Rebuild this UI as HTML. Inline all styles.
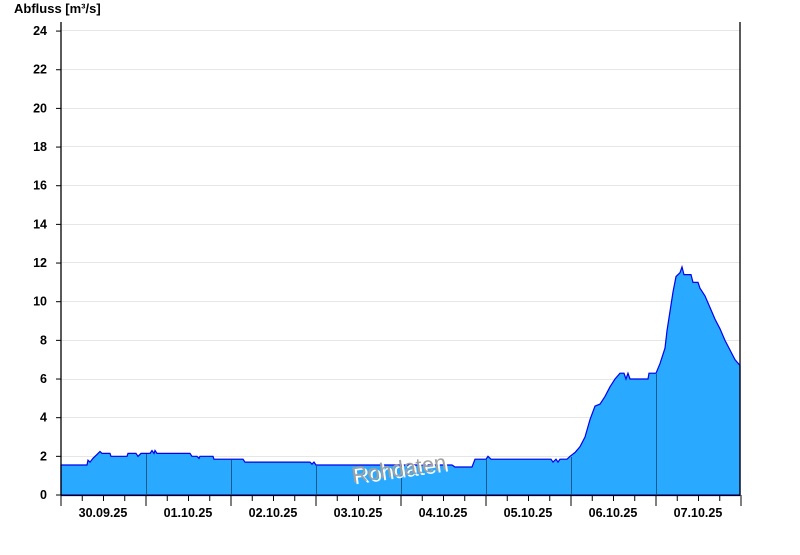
<!DOCTYPE html>
<html><head><style>body{margin:0;background:#fff}svg text{font-family:"Liberation Sans",Arial,sans-serif;font-weight:bold}</style></head>
<body>
<svg width="800" height="550" xmlns="http://www.w3.org/2000/svg">
<text x="14" y="13" font-size="13">Abfluss [m³/s]</text>
<g id="grid" stroke="#e6e6e6" stroke-width="1">
<line x1="61" x2="740" y1="456.5" y2="456.5"/><line x1="61" x2="740" y1="417.5" y2="417.5"/><line x1="61" x2="740" y1="379.5" y2="379.5"/><line x1="61" x2="740" y1="340.5" y2="340.5"/><line x1="61" x2="740" y1="301.5" y2="301.5"/><line x1="61" x2="740" y1="262.5" y2="262.5"/><line x1="61" x2="740" y1="224.5" y2="224.5"/><line x1="61" x2="740" y1="185.5" y2="185.5"/><line x1="61" x2="740" y1="146.5" y2="146.5"/><line x1="61" x2="740" y1="108.5" y2="108.5"/><line x1="61" x2="740" y1="69.5" y2="69.5"/><line x1="61" x2="740" y1="30.5" y2="30.5"/>
</g>
<polygon id="area" fill="#29a9ff" stroke="#0000ee" stroke-width="1.2" points=""/>
<g stroke="#1a5a8a" stroke-width="1">
<line x1="146.5" x2="146.5" y1="454" y2="495"/><line x1="231.5" x2="231.5" y1="460" y2="495"/><line x1="316.5" x2="316.5" y1="466" y2="495"/><line x1="401.5" x2="401.5" y1="466" y2="495"/><line x1="486.5" x2="486.5" y1="459" y2="495"/><line x1="571.5" x2="571.5" y1="457" y2="495"/><line x1="656.5" x2="656.5" y1="374" y2="495"/>
</g>
<text x="401" y="478" font-size="22" fill="#fff" transform="rotate(-8 400 470)" text-anchor="middle" style="font-weight:normal">Rohdaten</text>
<text x="399" y="476" font-size="22" fill="#a0a0a0" transform="rotate(-8 400 470)" text-anchor="middle" style="font-weight:normal">Rohdaten</text>
<g stroke="#000" stroke-width="1.3">
<line x1="61" x2="61" y1="22" y2="495"/><line x1="740" x2="740" y1="22" y2="495"/><line x1="61" x2="740" y1="495.5" y2="495.5"/>
</g>
<g id="ticks" stroke="#000" stroke-width="1"></g>
<g font-size="12.5" text-anchor="end" id="yl"></g>
<g font-size="12.5" text-anchor="middle">
<text x="103" y="517">30.09.25</text><text x="188" y="517">01.10.25</text><text x="273" y="517">02.10.25</text><text x="358" y="517">03.10.25</text><text x="443" y="517">04.10.25</text><text x="528" y="517">05.10.25</text><text x="613" y="517">06.10.25</text><text x="698" y="517">07.10.25</text>
</g>
</svg>
<script>
var d=[61,1.55,87,1.55,88,1.8,90,1.7,93,1.9,97,2.1,100,2.25,102,2.15,110,2.15,111,2.0,127,2.0,128,2.15,136,2.15,138,2.0,141,2.15,150,2.15,152,2.3,154,2.15,155,2.3,157,2.15,190,2.15,192,2.0,197,2.0,199,1.9,200,2.0,213,2.0,214,1.85,243,1.85,245,1.7,310,1.7,312,1.6,314,1.7,316,1.55,452,1.55,455,1.45,472,1.45,475,1.85,486,1.85,488,2.0,491,1.85,551,1.85,553,1.7,556,1.85,558,1.7,560,1.85,567,1.85,570,2.0,575,2.2,580,2.5,585,3.0,590,3.9,595,4.6,600,4.7,605,5.1,610,5.6,615,6.0,620,6.3,624,6.3,626,6.0,628,6.3,630,6.0,648,6.0,649,6.3,656,6.3,660,6.8,665,7.6,667,8.5,670,9.5,673,10.5,676,11.3,680,11.5,682,11.8,684,11.4,691,11.4,693,11.0,698,11.0,700,10.7,705,10.3,710,9.7,715,9.1,720,8.6,725,8.0,730,7.5,735,7.0,740,6.7];
var Y=function(v){return 495-v*19.33};
var p=["61,495"];for(var i=0;i<d.length;i+=2)p.push(d[i]+","+Y(d[i+1]).toFixed(1));p.push("740,495");
document.getElementById("area").setAttribute("points",p.join(" "));
var ns="http://www.w3.org/2000/svg",t=document.getElementById("ticks"),yl=document.getElementById("yl");
for(var k=0;k<=32;k++){var x=61+k*21.25,l=document.createElementNS(ns,"line");l.setAttribute("x1",x);l.setAttribute("x2",x);l.setAttribute("y1",495);l.setAttribute("y2",k%4==0?506:501);t.appendChild(l);}
for(var v=0;v<=24;v+=2){var y=Y(v),l=document.createElementNS(ns,"line");l.setAttribute("x1",56);l.setAttribute("x2",61);l.setAttribute("y1",y);l.setAttribute("y2",y);t.appendChild(l);var tx=document.createElementNS(ns,"text");tx.setAttribute("x",47);tx.setAttribute("y",y+4);tx.textContent=v;yl.appendChild(tx);}
</script>
</body></html>
